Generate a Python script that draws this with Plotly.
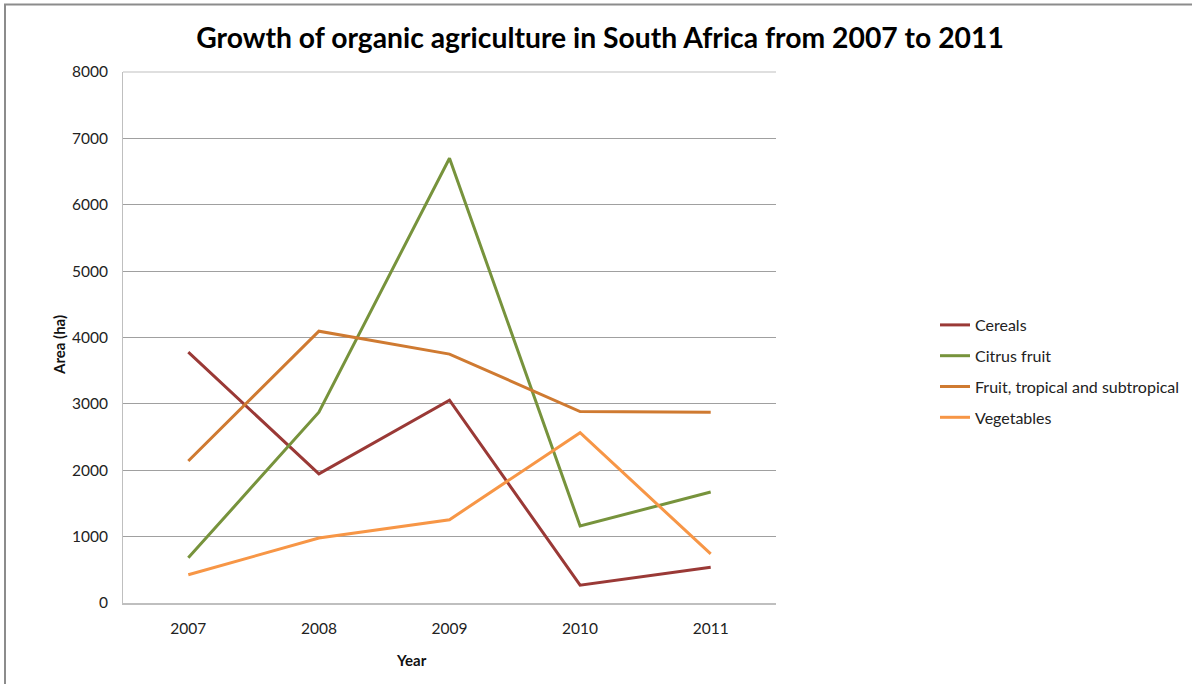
import plotly.graph_objects as go

years = ["2007", "2008", "2009", "2010", "2011"]
cereals = [3780, 1945, 3055, 268, 540]
citrus = [680, 2875, 6700, 1160, 1672]
fruit_tropical = [2140, 4095, 3750, 2885, 2875]
vegetables = [425, 980, 1255, 2565, 740]

series = [
    ("Cereals", cereals, "#9A3936"),
    ("Citrus fruit", citrus, "#77933C"),
    ("Fruit, tropical and subtropical", fruit_tropical, "#CF7A31"),
    ("Vegetables", vegetables, "#F79646"),
]

FONT = "Lato"
fig = go.Figure()
for i, (name, vals, col) in enumerate(series):
    fig.add_trace(go.Scatter(
        x=years, y=vals, name=name, mode="lines",
        line=dict(color=col, width=3),
        legendgroup=f"g{i}",
    ))

L, R, T, B = 123, 1192 - 776, 72, 684 - 603
pw, ph = 776 - 123, 603 - 72

fig.update_layout(
    width=1192, height=684,
    margin=dict(l=L, r=R, t=T, b=B, autoexpand=False),
    paper_bgcolor="white", plot_bgcolor="white",
    font=dict(family=FONT, size=15.5, color="#222"),
    title=dict(text="<b>Growth of organic agriculture in South Africa from 2007 to 2011</b>",
               x=600 / 1192, xanchor="center", y=1 - 38 / 684, yanchor="middle",
               font=dict(family=FONT, size=28.3, color="black")),
    showlegend=True,
    legend=dict(x=(935 - L) / pw, y=(603 - 308) / ph, xanchor="left", yanchor="top",
                font=dict(family=FONT, size=16, color="#222"),
                tracegroupgap=7, bgcolor="rgba(0,0,0,0)"),
    xaxis=dict(type="category", range=[-0.5, 4.5], showgrid=False,
               showline=True, linecolor="#BFBFBF", linewidth=2,
               ticks="", ticklabelstandoff=10),
    yaxis=dict(range=[0, 8000], dtick=1000, showgrid=True, gridcolor="#A0A0A0",
               gridwidth=1, showline=True, linecolor="#BFBFBF", linewidth=1,
               zeroline=False, ticks="", ticklabelstandoff=11),
    annotations=[
        dict(text="<b>Year</b>", xref="paper", yref="paper",
             x=(411 - L) / pw, y=(603 - 660) / ph, xanchor="center", yanchor="middle",
             showarrow=False, font=dict(family=FONT, size=15, color="#111")),
        dict(text="<b>Area (ha)</b>", xref="paper", yref="paper", textangle=-90,
             x=(59 - L) / pw, y=(603 - 345) / ph, xanchor="center", yanchor="middle",
             showarrow=False, font=dict(family=FONT, size=15, color="#111")),
    ],
    shapes=[dict(type="rect", xref="paper", yref="paper",
                 x0=(5 - L) / pw, x1=(1300 - L) / pw,
                 y0=(603 - 800) / ph, y1=(603 - 4.5) / ph,
                 line=dict(color="#8C8C8C", width=2), fillcolor="rgba(0,0,0,0)", layer="below"),
            dict(type="line", xref="paper", yref="paper", x0=0, x1=1, y0=1, y1=1,
                 line=dict(color="#BFBFBF", width=1))],
)

fig.write_html("out.html")
